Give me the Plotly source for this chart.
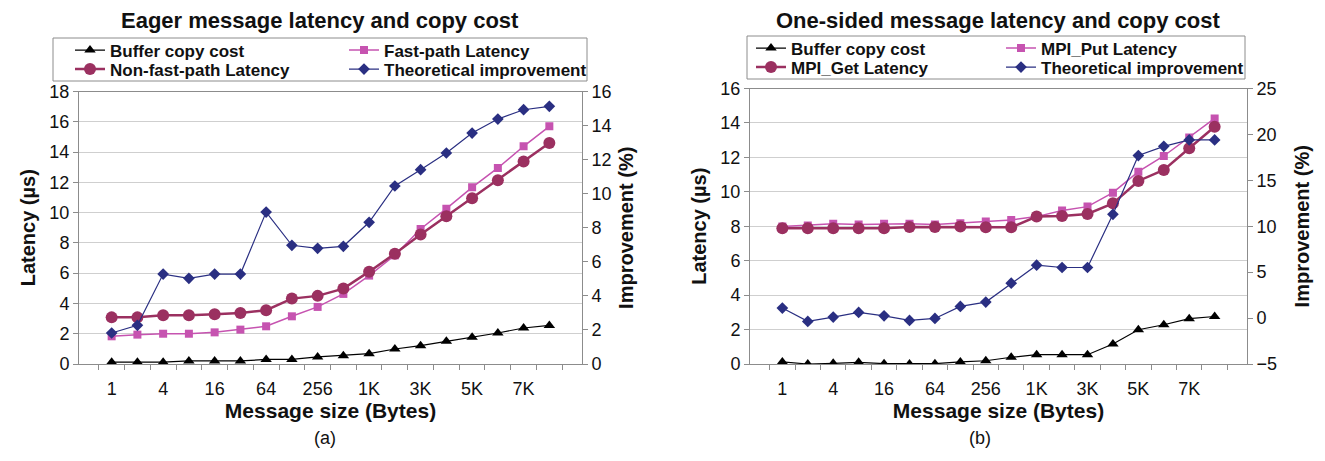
import plotly.graph_objects as go

# ---------------- data ----------------
sizes = ["1", "2", "4", "8", "16", "32", "64", "128", "256", "512",
         "1K", "2K", "3K", "4K", "5K", "6K", "7K", "8K"]
tick_labels = ["1", "", "4", "", "16", "", "64", "", "256", "",
               "1K", "", "3K", "", "5K", "", "7K", ""]

# (a) Eager
a_copy = [0.12, 0.12, 0.12, 0.2, 0.2, 0.2, 0.3, 0.3, 0.47, 0.55,
          0.68, 0.99, 1.21, 1.5, 1.76, 2.05, 2.38, 2.55]
a_fast = [1.83, 1.94, 2.0, 2.0, 2.09, 2.27, 2.49, 3.15, 3.77, 4.63,
          5.84, 7.18, 8.92, 10.26, 11.67, 12.95, 14.38, 15.70]
a_nonfast = [3.08, 3.08, 3.22, 3.22, 3.28, 3.37, 3.55, 4.32, 4.5, 4.98,
             6.10, 7.29, 8.55, 9.76, 10.95, 12.14, 13.37, 14.60]
a_improve = [1.82, 2.27, 5.28, 5.03, 5.28, 5.28, 8.92, 6.97, 6.79, 6.91,
             8.32, 10.45, 11.41, 12.39, 13.56, 14.38, 14.93, 15.13]

# (b) One-sided
b_copy = [0.12, 0.0, 0.04, 0.1, 0.02, 0.0, 0.02, 0.12, 0.19, 0.39,
          0.54, 0.54, 0.54, 1.16, 1.99, 2.28, 2.63, 2.76]
b_put = [7.98, 8.04, 8.14, 8.1, 8.14, 8.14, 8.1, 8.17, 8.27, 8.37,
         8.56, 8.91, 9.14, 9.95, 11.17, 12.08, 13.16, 14.26]
b_get = [7.88, 7.88, 7.88, 7.88, 7.88, 7.96, 7.96, 7.98, 7.94, 7.94,
         8.56, 8.6, 8.71, 9.33, 10.63, 11.27, 12.53, 13.78]
b_improve = [1.09, -0.36, 0.11, 0.62, 0.25, -0.25, -0.04, 1.27, 1.74, 3.80,
             5.76, 5.51, 5.51, 11.3, 17.7, 18.7, 19.4, 19.4]

# ---------------- styling ----------------
W, H = 1325, 461
FONT = "Arial, 'Liberation Sans', sans-serif"
C_COPY = "#000000"
C_FAST = "#C653B0"
C_NON = "#9B3060"
C_IMP = "#2A2F82"
AXIS_C = "#8C8C8C"
GRID_C = "#CFCFCF"
TXT = "#111111"


def px_x(p):
    return p / W


def px_y(p):
    return 1 - p / H


fig = go.Figure()


def add_series(x, y, name, color, symbol, msize, lwidth, xa, ya, legend):
    fig.add_trace(go.Scatter(
        x=x, y=y, name=name, mode="lines+markers",
        line=dict(color=color, width=lwidth),
        marker=dict(symbol=symbol, size=msize, color=color),
        xaxis=xa, yaxis=ya, legend=legend))


# panel (a)
add_series(sizes, a_copy, "Buffer copy cost", C_COPY, "triangle-up", 10, 1.2, "x", "y", "legend")
add_series(sizes, a_fast, "Fast-path Latency", C_FAST, "square", 8, 1.5, "x", "y", "legend2")
add_series(sizes, a_nonfast, "Non-fast-path Latency", C_NON, "circle", 12, 2.5, "x", "y", "legend3")
add_series(sizes, a_improve, "Theoretical improvement", C_IMP, "diamond", 9, 1.2, "x", "y2", "legend4")

# panel (b)
add_series(sizes, b_copy, "Buffer copy cost", C_COPY, "triangle-up", 10, 1.2, "x2", "y3", "legend5")
add_series(sizes, b_put, "MPI_Put Latency", C_FAST, "square", 8, 1.5, "x2", "y3", "legend6")
add_series(sizes, b_get, "MPI_Get Latency", C_NON, "circle", 12, 2.5, "x2", "y3", "legend7")
add_series(sizes, b_improve, "Theoretical improvement", C_IMP, "diamond", 9, 1.2, "x2", "y4", "legend8")

xdom_a = [px_x(79), px_x(582)]
xdom_b = [px_x(750), px_x(1247)]
ydom_a = [px_y(364), px_y(91.5)]
ydom_b = [px_y(364), px_y(88.5)]

xcommon = dict(
    type="category", categoryorder="array", categoryarray=sizes,
    tickmode="array", tickvals=sizes, ticktext=tick_labels, tickangle=0,
    tickson="boundaries", ticks="outside", ticklen=5, tickcolor=AXIS_C,
    ticklabelstandoff=8,
    showline=True, linecolor=AXIS_C, linewidth=1, mirror=True,
    showgrid=False, zeroline=False, automargin=False,
    tickfont=dict(family=FONT, size=18, color=TXT),
    title=dict(text="Message size (Bytes)", standoff=0,
               font=dict(family=FONT, size=21, color=TXT, weight="bold")),
)

yleft = dict(
    ticks="outside", ticklen=5, tickcolor=AXIS_C,
    showline=True, linecolor=AXIS_C, linewidth=1, automargin=False,
    showgrid=True, gridcolor=GRID_C, gridwidth=1, zeroline=False,
    tickfont=dict(family=FONT, size=18, color=TXT),
    title=dict(text="Latency (µs)", standoff=8,
               font=dict(family=FONT, size=20, color=TXT, weight="bold")),
)


def yright(standoff):
    return dict(
        side="right", ticks="outside", ticklen=5, tickcolor=AXIS_C,
        showline=True, linecolor=AXIS_C, linewidth=1, automargin=False,
        showgrid=False, zeroline=False,
        tickfont=dict(family=FONT, size=18, color=TXT),
        title=dict(text="Improvement (%)", standoff=standoff,
                   font=dict(family=FONT, size=20, color=TXT, weight="bold")),
    )


fig.update_layout(
    width=W, height=H,
    margin=dict(l=0, r=0, t=0, b=0, pad=0, autoexpand=False),
    paper_bgcolor="white", plot_bgcolor="white",
    font=dict(family=FONT, color=TXT),
    xaxis=dict(domain=xdom_a, anchor="y", **xcommon),
    xaxis2=dict(domain=xdom_b, anchor="y3", **xcommon),
    yaxis=dict(domain=ydom_a, anchor="x", range=[0, 18], dtick=2, **yleft),
    yaxis2=dict(domain=ydom_a, anchor="x", overlaying="y", range=[0, 16], dtick=2, **yright(8)),
    yaxis3=dict(domain=ydom_b, anchor="x2", range=[0, 16], dtick=2, **yleft),
    yaxis4=dict(domain=ydom_b, anchor="x2", overlaying="y3", range=[-5, 25], dtick=5, **yright(18)),
    showlegend=True,
)

leg_common = dict(
    orientation="v", yanchor="top", xanchor="left",
    xref="paper", yref="paper",
    bgcolor="rgba(0,0,0,0)", borderwidth=0, itemwidth=30,
    font=dict(family=FONT, size=17, color=TXT, weight="bold"),
    tracegroupgap=0, traceorder="normal",
)
ROW_OFF = 16.5  # distance from legend top to the item's centre line
# (legend id, legend left x, row centre y)
legend_pos = {
    "legend": (70, 49), "legend2": (344, 49),
    "legend3": (70, 68), "legend4": (344, 68),
    "legend5": (751, 47), "legend6": (1001, 47),
    "legend7": (751, 66), "legend8": (1001, 66),
}
fig.update_layout(**{
    k: dict(x=px_x(x), y=px_y(yc - ROW_OFF), **leg_common)
    for k, (x, yc) in legend_pos.items()
})

# legend frames
for x0, x1, y0, y1 in [(53, 587, 38, 81), (747, 1245, 36, 79)]:
    fig.add_shape(type="rect", xref="paper", yref="paper",
                  x0=px_x(x0), x1=px_x(x1), y0=px_y(y1), y1=px_y(y0),
                  line=dict(color=AXIS_C, width=1), fillcolor="rgba(0,0,0,0)")

# titles and panel labels
for text, xc in [("Eager message latency and copy cost", 320),
                 ("One-sided message latency and copy cost", 998)]:
    fig.add_annotation(text=text, xref="paper", yref="paper",
                       x=px_x(xc), y=px_y(20), showarrow=False,
                       xanchor="center", yanchor="middle",
                       font=dict(family=FONT, size=22, color=TXT, weight="bold"))
for text, xc in [("(a)", 325), ("(b)", 980)]:
    fig.add_annotation(text=text, xref="paper", yref="paper",
                       x=px_x(xc), y=px_y(438), showarrow=False,
                       xanchor="center", yanchor="middle",
                       font=dict(family=FONT, size=18, color=TXT))

fig.write_html("out.html",
               config={"displayModeBar": False},
               post_script="document.body.style.margin = '0';")
